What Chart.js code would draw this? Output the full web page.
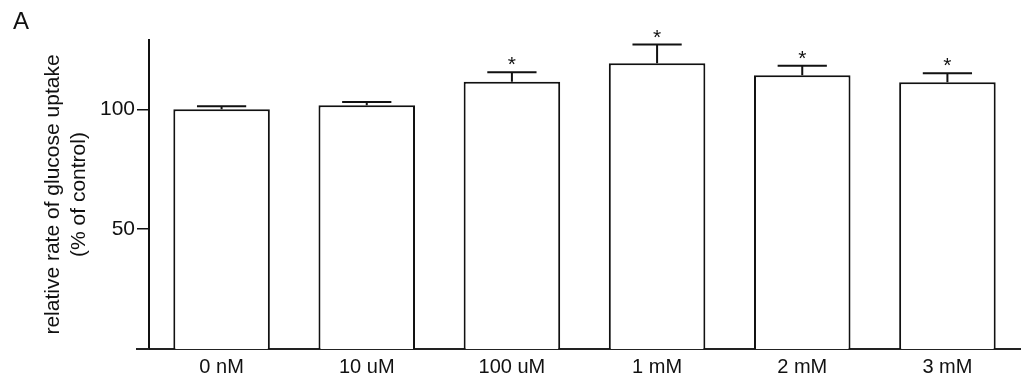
<!DOCTYPE html>
<html>
<head>
<meta charset="utf-8">
<script src="https://cdn.jsdelivr.net/npm/chart.js@4/dist/chart.umd.min.js"></script>
<style>
  html, body { margin: 0; padding: 0; background: #fff; }
  #wrap { width: 1024px; height: 390px; position: relative; }
</style>
</head>
<body>
<div id="wrap"><canvas id="c"></canvas></div>
<script>
// ---- data ----
const categories = ["0 nM", "10 uM", "100 uM", "1 mM", "2 mM", "3 mM"];
const means = [100.1, 101.8, 111.6, 119.3, 114.3, 111.4];
const sems = [1.2, 1.3, 3.9, 7.8, 3.9, 3.7];
const marks = ["", "", "*", "*", "*", "*"];
const yTicks = [50, 100];
const panelLabel = "A";
const yTitle = ["relative rate of glucose uptake", "(% of control)"];

const FONT = "'Liberation Sans', Arial, Helvetica, sans-serif";
Chart.defaults.font.family = FONT;
Chart.defaults.color = "#111";

const errorPlugin = {
  id: "errorBars",
  afterDatasetsDraw(chart) {
    const ctx = chart.ctx;
    const y = chart.scales.y;
    const meta = chart.getDatasetMeta(0);
    ctx.save();
    ctx.strokeStyle = "#111";
    ctx.lineWidth = 2;
    ctx.fillStyle = "#111";
    ctx.font = "21px " + FONT;
    ctx.textAlign = "center";
    ctx.textBaseline = "alphabetic";
    meta.data.forEach((bar, i) => {
      const x = bar.x;
      const yb = y.getPixelForValue(means[i]);
      const yt = y.getPixelForValue(means[i] + sems[i]);
      const half = bar.width * 0.255;
      ctx.beginPath();
      ctx.moveTo(x, yb);
      ctx.lineTo(x, yt);
      ctx.moveTo(x - half, yt);
      ctx.lineTo(x + half, yt);
      ctx.stroke();
      if (marks[i]) ctx.fillText(marks[i], x, yt - 1);
    });
    // x-axis line extension to the left of the y axis
    const a = chart.chartArea;
    ctx.strokeStyle = "#222";
    ctx.beginPath();
    ctx.moveTo(a.left - 13, a.bottom);
    ctx.lineTo(a.left, a.bottom);
    ctx.stroke();
    ctx.restore();
  }
};

new Chart(document.getElementById("c"), {
  type: "bar",
  data: {
    labels: categories,
    datasets: [{
      data: means,
      backgroundColor: "#ffffff",
      borderColor: "#111",
      borderWidth: 2,
      barPercentage: 0.665,
      categoryPercentage: 1.0
    }]
  },
  options: {
    responsive: true,
    maintainAspectRatio: false,
    animation: false,
    layout: { padding: { left: 13, right: 4, top: 0, bottom: 0 } },
    plugins: {
      legend: { display: false },
      tooltip: { enabled: false },
      title: {
        display: true,
        text: panelLabel,
        align: "start",
        color: "#111",
        font: { size: 24, weight: "normal", lineHeight: 1.0 },
        padding: { top: 10, bottom: 6 }
      }
    },
    scales: {
      x: {
        grid: { display: false },
        border: { display: true, color: "#222", width: 2 },
        ticks: { font: { size: 20, lineHeight: 1.0 }, color: "#111", padding: 0, maxRotation: 0 },
        afterFit: s => { s.height = 41; }
      },
      y: {
        min: 0,
        max: 129,
        afterBuildTicks: s => { s.ticks = yTicks.map(v => ({ value: v })); },
        grid: { display: true, drawOnChartArea: false, drawTicks: true, tickLength: 12, color: "#111", lineWidth: 1.5 },
        border: { display: true, color: "#111", width: 2 },
        ticks: { font: { size: 21 }, color: "#111", padding: 2 },
        title: {
          display: true,
          text: yTitle,
          color: "#111",
          font: { size: 21, lineHeight: 1.2 },
          padding: { top: 28, bottom: 0 }
        },
        afterFit: s => { s.width = 136; }
      }
    }
  },
  plugins: [errorPlugin]
});
</script>
</body>
</html>
